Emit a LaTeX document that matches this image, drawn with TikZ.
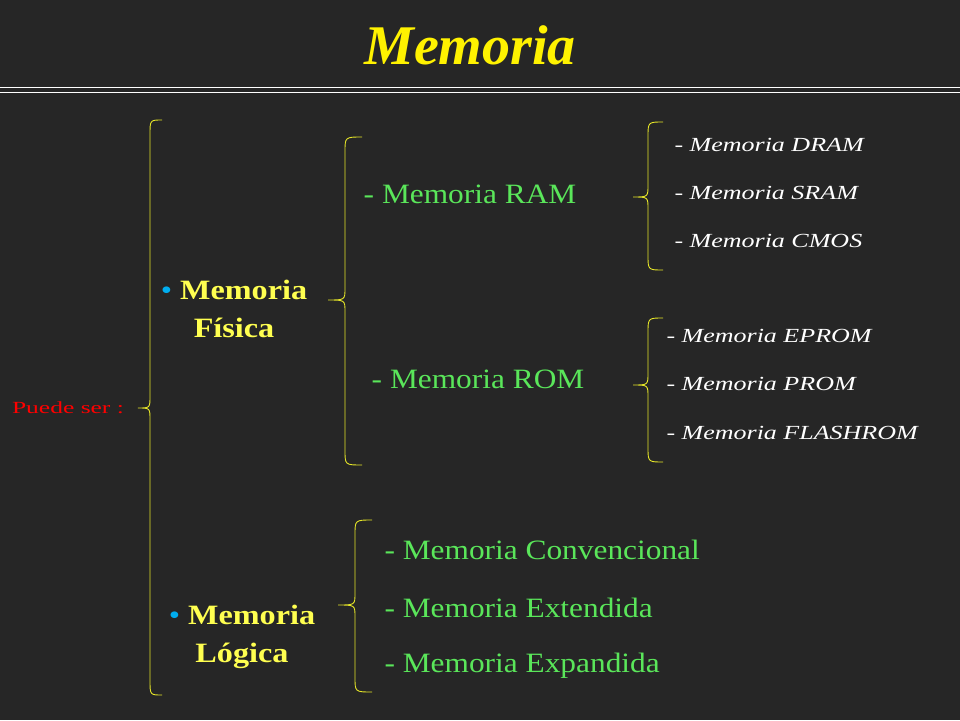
\documentclass[tikz,border=0pt]{standalone}
\usepackage{fontspec}
\setmainfont{Liberation Serif}
\newfontfamily\stA[FakeStretch=1.12]{Liberation Serif}
\newfontfamily\stB[FakeStretch=1.3]{Liberation Serif}
\newfontfamily\stC[FakeStretch=1.5]{Liberation Serif}
\newfontfamily\stD[FakeStretch=1.15]{Liberation Serif}
\definecolor{bg}{RGB}{38,38,38}
\definecolor{by}{RGB}{230,230,40}
\definecolor{gr}{RGB}{90,230,90}
\definecolor{yl}{RGB}{255,255,80}
\begin{document}
\begin{tikzpicture}[x=1pt,y=-1pt,
  br/.style={draw=by,line width=0.9pt},
  sub/.style={anchor=west,text=white,font=\stB\fontsize{20}{22}\selectfont\itshape},
  grn/.style={text=gr,font=\stA\fontsize{28}{30}\selectfont},
  big/.style={align=center,font=\stD\fontsize{28}{38}\selectfont\bfseries,text=yl}]
\fill[bg] (0,0) rectangle (960,720);
\useasboundingbox (0,0) rectangle (960,720);
\node (title) at (470,45) {\fontsize{56}{60}\selectfont\bfseries\itshape\color{yellow}Memoria};
\draw[white,line width=1pt] (0,87) -- (960,87) (0,92) -- (960,92);
\newcommand{\mybrace}[5]{% tip x, top, mid, bottom, right x
  \pgfmathsetmacro{\xm}{(#1+#5)/2}
  \draw[br] (#5,#2) .. controls (\xm,#2) .. (\xm,#2+15) -- (\xm,#3-12) .. controls (\xm,#3) .. (#1,#3)
     .. controls (\xm,#3) .. (\xm,#3+12) -- (\xm,#4-15) .. controls (\xm,#4) .. (#5,#4);}
\mybrace{138}{120}{408}{695}{162}
\mybrace{328}{137}{300}{465}{362}
\mybrace{633}{122}{197}{270}{663}
\mybrace{633}{318}{385}{462}{663}
\mybrace{338}{520}{605}{692}{372}
\node[text=red,font=\stC\fontsize{17}{18}\selectfont] (ps) at (68,408) {Puede ser :};
\node[big] (fis) at (234,309) {{\color{cyan}\mdseries\textbullet} Memoria\\Física};
\node[big] (log) at (242,637) {{\color{cyan}\mdseries\textbullet} Memoria\\Lógica};
\node[grn] (ram) at (470,194) {- Memoria RAM};
\node[grn] (rom) at (478,379) {- Memoria ROM};
\node[sub] (a1) at (671,145) {- Memoria DRAM};
\node[sub] (a2) at (671,193) {- Memoria SRAM};
\node[sub] (a3) at (671,241) {- Memoria CMOS};
\node[sub] (b1) at (663,336) {- Memoria EPROM};
\node[sub] (b2) at (663,384) {- Memoria PROM};
\node[sub] (b3) at (663,433) {- Memoria FLASHROM};
\node[grn,anchor=west] (c1) at (381,550) {- Memoria Convencional};
\node[grn,anchor=west] (c2) at (381,608) {- Memoria Extendida};
\node[grn,anchor=west] (c3) at (381,666) {- Memoria Expandida};
\end{tikzpicture}
\end{document}
